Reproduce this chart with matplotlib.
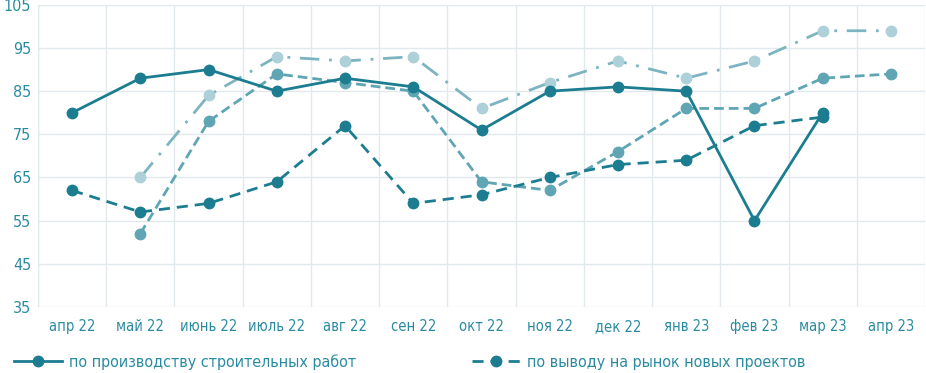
import matplotlib
matplotlib.use("Agg")
import matplotlib.pyplot as plt
import numpy as np

months = ["апр 22", "май 22", "июнь 22", "июль 22", "авг 22", "сен 22", "окт 22",
          "ноя 22", "дек 22", "янв 23", "фев 23", "мар 23", "апр 23"]

# series (None = no value)
construction = [80, 88, 90, 85, 88, 86, 76, 85, 86, 85, 55, 80, None]
new_projects = [62, 57, 59, 64, 77, 59, 61, 65, 68, 69, 77, 79, None]
light_dashdot = [None, 65, 84, 93, 92, 93, 81, 87, 92, 88, 92, 99, 99]
mid_dashed = [None, 52, 78, 89, 87, 85, 64, 62, 71, 81, 81, 88, 89]

c_dark = "#1c7d90"
c_mid = "#5fa5b4"
c_light = "#aed0d9"
c_text = "#2a8ba0"

plt.rcParams['font.family'] = ['DejaVu Sans']
plt.rcParams['font.stretch'] = 'condensed'

def arr(v):
    return np.array([np.nan if x is None else x for x in v], dtype=float)

x = np.arange(len(months))

fig = plt.figure(figsize=(9.26, 3.73), dpi=100)
ax = fig.add_axes([0.041, 0.177, 0.958, 0.81])

ax.plot(x, arr(light_dashdot), color="#7db4c1", lw=2, ls=(0, (7, 3.5, 1, 3.5)),
        marker='o', ms=7.5, markerfacecolor=c_light, markeredgecolor=c_light, zorder=2)
ax.plot(x, arr(mid_dashed), color=c_mid, lw=2, ls=(0, (3.5, 1.8)),
        marker='o', ms=7.5, zorder=3)
ax.plot(x, arr(new_projects), color=c_dark, lw=2, ls=(0, (4, 2.5)),
        marker='o', ms=7.5, zorder=4, label="по выводу на рынок новых проектов")
ax.plot(x, arr(construction), color=c_dark, lw=2, ls='-',
        marker='o', ms=7.5, zorder=5, label="по производству строительных работ")

ax.set_xlim(-0.5, 12.5)
ax.set_ylim(35, 105)
ax.set_yticks(np.arange(35, 106, 10))
ax.set_xticks(x)
ax.set_xticklabels(months)
ax.set_xticks(np.arange(-0.5, 12.6, 1), minor=True)
ax.grid(True, which='minor', axis='x', color='#e2e9ec', lw=1)
ax.grid(True, which='major', axis='y', color='#e2e9ec', lw=1)
ax.set_axisbelow(True)
ax.tick_params(which='both', length=0)
ax.tick_params(axis='x', colors=c_text, labelsize=10.5, pad=9)
ax.tick_params(axis='y', colors=c_text, labelsize=11.5, pad=5)
for s in ax.spines.values():
    s.set_visible(False)
ax.axvline(-0.5, color='#e2e9ec', lw=1)

h, l = ax.get_legend_handles_labels()
leg = fig.legend([h[1], h[0]], [l[1], l[0]], loc='lower left', ncol=2,
                 bbox_to_anchor=(0.0, -0.03), frameon=False, fontsize=11.5,
                 handlelength=3, handletextpad=0.4, columnspacing=7.3)
for t in leg.get_texts():
    t.set_color(c_text)

fig.savefig("out.png", dpi=100)
